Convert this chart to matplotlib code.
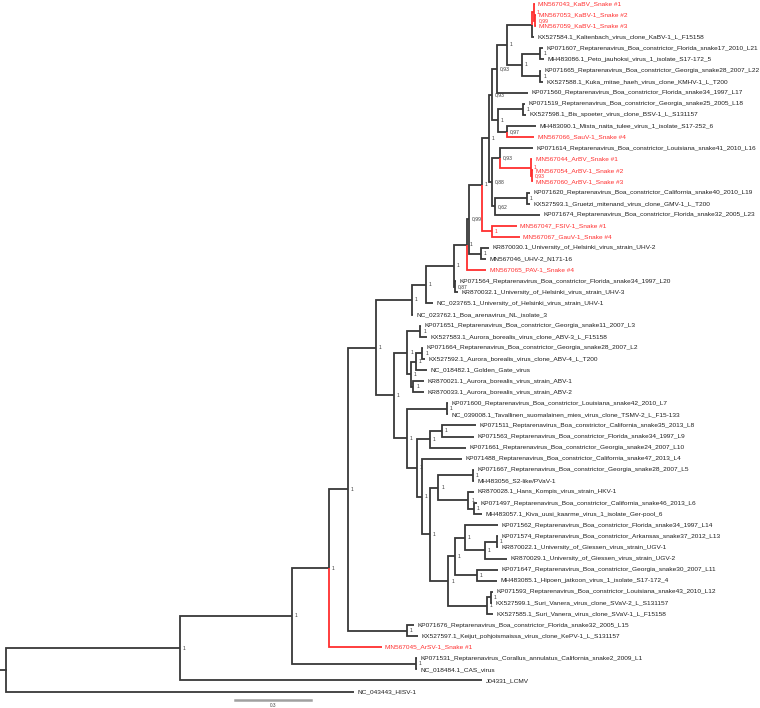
import matplotlib
matplotlib.use("Agg")
from matplotlib import pyplot as plt

plt.rcParams['font.family'] = ['Liberation Sans', 'DejaVu Sans']

# tip labels, top to bottom (the newick below refers to them by index)
leaves = [
    "MN567043_KaBV_Snake #1", "MN567053_KaBV-1_Snake #2", "MN567059_KaBV-1_Snake #3",
    "KX527584.1_Kaltenbach_virus_clone_KaBV-1_L_F15158",
    "KP071607_Reptarenavirus_Boa_constrictor_Florida_snake17_2010_L21",
    "MH483086.1_Peto_jauhoksi_virus_1_isolate_S17-172_5",
    "KP071665_Reptarenavirus_Boa_constrictor_Georgia_snake28_2007_L22",
    "KX527588.1_Kuka_mitae_haeh_virus_clone_KMHV-1_L_T200",
    "KP071560_Reptarenavirus_Boa_constrictor_Florida_snake34_1997_L17",
    "KP071519_Reptarenavirus_Boa_constrictor_Georgia_snake25_2005_L18",
    "KX527598.1_Bis_spoeter_virus_clone_BSV-1_L_S131157",
    "MH483090.1_Mista_naita_tulee_virus_1_isolate_S17-252_6",
    "MN567066_SauV-1_Snake #4",
    "KP071614_Reptarenavirus_Boa_constrictor_Louisiana_snake41_2010_L16",
    "MN567044_ArBV_Snake #1", "MN567054_ArBV-1_Snake #2", "MN567060_ArBV-1_Snake #3",
    "KP071620_Reptarenavirus_Boa_constrictor_California_snake40_2010_L19",
    "KX527593.1_Gruetzi_mitenand_virus_clone_GMV-1_L_T200",
    "KP071674_Reptarenavirus_Boa_constrictor_Florida_snake32_2005_L23",
    "MN567047_FSIV-1_Snake #1", "MN567067_GauV-1_Snake #4",
    "KR870030.1_University_of_Helsinki_virus_strain_UHV-2",
    "MN567046_UHV-2_N171-16",
    "MN567065_PAV-1_Snake #4",
    "KP071564_Reptarenavirus_Boa_constrictor_Florida_snake34_1997_L20",
    "KR870032.1_University_of_Helsinki_virus_strain_UHV-3",
    "NC_023765.1_University_of_Helsinki_virus_strain_UHV-1",
    "NC_023762.1_Boa_arenavirus_NL_isolate_3",
    "KP071651_Reptarenavirus_Boa_constrictor_Georgia_snake11_2007_L3",
    "KX527583.1_Aurora_borealis_virus_clone_ABV-3_L_F15158",
    "KP071664_Reptarenavirus_Boa_constrictor_Georgia_snake28_2007_L2",
    "KX527592.1_Aurora_borealis_virus_clone_ABV-4_L_T200",
    "NC_018482.1_Golden_Gate_virus",
    "KR870021.1_Aurora_borealis_virus_strain_ABV-1",
    "KR870033.1_Aurora_borealis_virus_strain_ABV-2",
    "KP071600_Reptarenavirus_Boa_constrictor_Louisiana_snake42_2010_L7",
    "NC_039008.1_Tavallinen_suomalainen_mies_virus_clone_TSMV-2_L_F15-133",
    "KP071511_Reptarenavirus_Boa_constrictor_California_snake35_2013_L8",
    "KP071563_Reptarenavirus_Boa_constrictor_Florida_snake34_1997_L9",
    "KP071661_Reptarenavirus_Boa_constrictor_Georgia_snake24_2007_L10",
    "KP071488_Reptarenavirus_Boa_constrictor_California_snake47_2013_L4",
    "KP071667_Reptarenavirus_Boa_constrictor_Georgia_snake28_2007_L5",
    "MH483056_S2-like/PVaV-1",
    "KR870028.1_Hans_Kompis_virus_strain_HKV-1",
    "KP071497_Reptarenavirus_Boa_constrictor_California_snake46_2013_L6",
    "MH483057.1_Kiva_uusi_kaarme_virus_1_isolate_Ger-pool_6",
    "KP071562_Reptarenavirus_Boa_constrictor_Florida_snake34_1997_L14",
    "KP071574_Reptarenavirus_Boa_constrictor_Arkansas_snake37_2012_L13",
    "KR870022.1_University_of_Giessen_virus_strain_UGV-1",
    "KR870029.1_University_of_Giessen_virus_strain_UGV-2",
    "KP071647_Reptarenavirus_Boa_constrictor_Georgia_snake30_2007_L11",
    "MH483085.1_Hipoen_jatkoon_virus_1_isolate_S17-172_4",
    "KP071593_Reptarenavirus_Boa_constrictor_Louisiana_snake43_2010_L12",
    "KX527599.1_Suri_Vanera_virus_clone_SVaV-2_L_S131157",
    "KX527585.1_Suri_Vanera_virus_clone_SVaV-1_L_F15158",
    "KP071676_Reptarenavirus_Boa_constrictor_Florida_snake32_2005_L15",
    "KX527597.1_Keijut_pohjoismaissa_virus_clone_KePV-1_L_S131157",
    "MN567045_ArSV-1_Snake #1",
    "KP071531_Reptarenavirus_Corallus_annulatus_California_snake2_2009_L1",
    "NC_018484.1_CAS_virus",
    "J04331_LCMV",
    "NC_043443_HISV-1",
]

# sequences from this study, drawn in red
new_seqs = [0, 1, 2, 12, 14, 15, 16, 20, 21, 24, 58]

# clades as newick pieces (tip index:branch length, support after ')')
kabv = "((0:0.004,(1:0.002,2:0.002)0.99:0.006)1:0.008,3:0.0099):0.0991"
l21_l22 = "((4:0.0099,5:0.0139)1:0.0734,(6:0.004,7:0.0099)1:0.0734)1:0.0595"
bsv = "((9:0.0059,10:0.0099)1:0.1011,(11:0.117,12:0.109)0.97:0.0357)1:0.0238"
arbv = ("((13:0.1308,(14:0.0059,(15:0.0028,16:0.0028)0.93:0.0052)1:0.1229)0.93:0.0317,"
        "((17:0.0119,18:0.0139)1:0.1269,19:0.1784)0.62:0.0119)0.88:0.0119")
fsiv = "(20:0.0991,21:0.111)1:0.0397"
uhv2 = "(22:0.0337,23:0.0218)1:0.0476"
uhv3 = "(25:0.0059,26:0.0119)0.87:0.004"
abv = ("((29:0.004,30:0.0258)1:0.0515,(((31:0.004,32:0.0099)1:0.0258,33:0.0436)1:0.021,"
       "(34:0.0424,35:0.0424)1:0.0103)1:0.0127)1:0.0535")
tsmv = "(36:0.0032,37:0.0032)1:0.1586"
l8_l10 = "((38:0.136,39:0.1281)1:0.0464,40:0.1447)1:0.0527"
hkv = "((42:0.0052,43:0.0052)1:0.1364,(44:0.0226,(45:0.0119,46:0.0317)1:0.0226)1:0.119)1:0.0329"
ugv = ("((47:0.1289,((48:0.0052,49:0.0052)1:0.0464,50:0.0872)1:0.0793)1:0.0397,"
       "(51:0.0825,52:0.0805)1:0.086)1:0.0266")
svav = "((53:0.0079,54:0.0059)1:0.017,55:0.023)1:0.1523"
kepv = "(56:0.0289,57:0.0448)1:0.2328"
cas = "(59:0.004,60:0.004)1:0.4917"

upper = ("((((((((((%s,%s)1:0.0397,8:0.1229)0.93:0.0198,%s)0.93:0.0119,%s)1:0.0278,%s)1:0.0515,"
         "%s)0.99:0.0079,24:0.0773)1:0.0515,%s)1:0.111,27:0.0297)1:0.0555,28:0.0059)1:0.1427"
         % (kabv, l21_l22, bsv, arbv, fsiv, uhv2, uhv3))
lower = ("(%s,(%s,(%s,(41:0.1586,(%s,(%s,%s)1:0.0726)1:0.0317)1:0.021)1:0.0397)1:0.0504)1:0.0714"
         % (abv, tsmv, l8_l10, hkv, ugv, svav))
tree_newick = ("((((((%s,%s)1:0.111,%s)1:0.0753,58:0.2101)1:0.1467,%s)1:0.4441,61:1.1994)1:0.6899,"
               "62:1.3779);" % (upper, lower, kepv, cas))


def parse(s):
    pos = 0

    def node():
        nonlocal pos
        n = {'children': [], 'name': '', 'len': 0.0}
        if s[pos] == '(':
            pos += 1
            n['children'].append(node())
            while s[pos] == ',':
                pos += 1
                n['children'].append(node())
            pos += 1
        start = pos
        while s[pos] not in ':,);':
            pos += 1
        n['name'] = s[start:pos]
        if s[pos] == ':':
            pos += 1
            start = pos
            while s[pos] not in ',);':
                pos += 1
            n['len'] = float(s[start:pos])
        return n
    return node()


def layout(n, x0):
    n['x'] = x0 + n['len']
    if n['children']:
        for c in n['children']:
            layout(c, n['x'])
        n['y'] = (n['children'][0]['y'] + n['children'][-1]['y']) / 2
        n['red'] = all(c['red'] for c in n['children'])
    else:
        n['y'] = int(n['name'])
        n['red'] = n['y'] in new_seqs


root = parse(tree_newick)
layout(root, 0.0)

RED = "#ff2e2e"
LINE = "#383838"

fig = plt.figure(figsize=(7.6, 7.08), dpi=100)
ax = fig.add_axes([0, 0, 1, 1])
px = 252.2   # pixels per substitution unit
ax.set_xlim(-6 / px, 754 / px)
ax.set_ylim((708 - 4) / 11.09, -4 / 11.09)
ax.axis("off")


def draw(n):
    for c in n['children']:
        col = RED if c['red'] else LINE
        ax.plot([n['x'], n['x'], c['x']], [n['y'], c['y'], c['y']], color=col, lw=1.3,
                solid_capstyle='butt', solid_joinstyle='miter')
        draw(c)
    if n['children']:
        if n['name'] and n is not root:
            ax.text(n['x'] + 3 / px, n['y'], n['name'].replace('.', ','), fontsize=3.6,
                    va='center', ha='left', color=RED if n['red'] else '#3a3a3a')
    else:
        ax.text(n['x'] + 3.5 / px, n['y'], leaves[n['y']], fontsize=4.65, va='center',
                ha='left', color=RED if n['red'] else '#1e1e1e')


ax.plot([root['x'] - 6 / px, root['x']], [root['y'], root['y']], color=LINE, lw=1.3)
draw(root)

# scale bar
ax.plot([229 / px, 229 / px + 0.3], [62.76, 62.76], color="#a0a0a0", lw=1.8)
ax.text(229 / px + 0.15, 63.3, "0.3", fontsize=3.4, ha='center', va='center', color="#444444")

fig.savefig("out.png", dpi=100)
